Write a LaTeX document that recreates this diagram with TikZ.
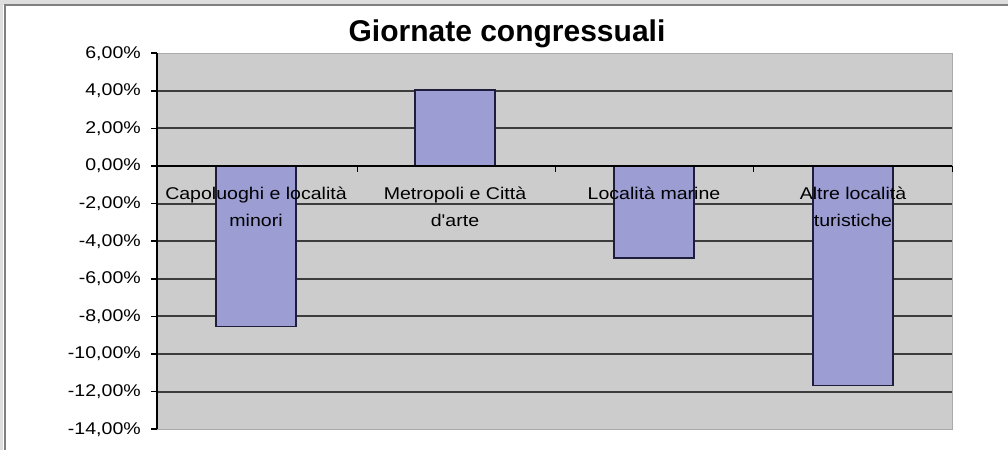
\documentclass[tikz,border=0pt]{standalone}
\usepackage{fontspec}
\setmainfont{Liberation Sans}
\newfontfamily\chartfont[FakeStretch=1.15]{Liberation Sans}
\usetikzlibrary{positioning}
\definecolor{framefill}{RGB}{222,222,222}
\definecolor{frameline}{RGB}{128,128,128}
\definecolor{plotgray}{RGB}{204,204,204}
\definecolor{plotedge}{RGB}{170,170,170}
\definecolor{gridgray}{RGB}{60,60,60}
\definecolor{barfill}{RGB}{155,157,211}
\definecolor{barline}{RGB}{30,30,60}
\tikzset{
  ylab/.style    ={anchor=east, inner sep=0pt, font=\chartfont\fontsize{17}{20}\selectfont},
  catlab/.style  ={anchor=north, align=center, inner sep=0pt, font=\chartfont\fontsize{17}{27}\selectfont},
  bar/.style     ={draw=barline, fill=barfill, line width=1.4pt, minimum width=80pt, inner sep=0pt},
  gridrule/.style={draw=gridgray, line width=2pt},
  axisline/.style={draw=black, line width=1.6pt},
}

\begin{document}
\begin{tikzpicture}[x=1pt, y=1pt]
  \useasboundingbox (0,0) rectangle (1008,450);
  % frame of the panel
  \fill[white] (0,0) rectangle (1008,450);
  \fill[framefill] (0,445) rectangle (1008,450);
  \fill[framefill] (0,0) rectangle (3,450);
  \draw[frameline, line width=2pt] (4.5,0) -- (4.5,444.5) -- (1008,444.5);

  % title
  \node[anchor=base, inner sep=0pt, font=\bfseries\fontsize{30}{36}\selectfont] (title) at (507,408) {Giornate congressuali};

  \begin{scope}[shift={(0,284)}, y=18.8pt]
    % plot area
    \coordinate (ptl) at (157,6);
    \coordinate (pbr) at (952,-14);
    \draw[plotedge, fill=plotgray, line width=1pt] (ptl) rectangle (pbr);
    \foreach \v in {4,2,-2,-4,-6,-8,-10,-12}
      \draw[gridrule] (157,\v) -- (952,\v);

    % y axis with ticks and labels
    \draw[axisline] (ptl) -- (157,-14);
    \foreach \v/\t in {6/{6,00\%}, 4/{4,00\%}, 2/{2,00\%}, 0/{0,00\%},
                       -2/{-2,00\%}, -4/{-4,00\%}, -6/{-6,00\%}, -8/{-8,00\%},
                       -10/{-10,00\%}, -12/{-12,00\%}, -14/{-14,00\%}} {
      \draw[axisline] (151,\v) -- (157,\v);
      \node[ylab] at (141,\v) {\t};
    }

    % bars
    \node[bar, anchor=north, minimum height=8.5*18.8pt]  (capo)  at (256,0) {};
    \node[bar, anchor=south, minimum height=4.0*18.8pt]  (metro) at (455,0) {};
    \node[bar, anchor=north, minimum height=4.85*18.8pt] (mare)  at (654,0) {};
    \node[bar, anchor=north, minimum height=11.65*18.8pt](altre) at (853,0) {};

    % zero line and category ticks
    \draw[axisline] (157,0) -- (952,0);
    \foreach \x in {357,555,753,952}
      \draw[axisline, line width=1pt] (\x,0) -- (\x,-0.3);

    % category labels
    \node[catlab] (lcapo)  at (256,-1.12) {Capoluoghi e località\\minori};
    \node[catlab] (lmetro) at (455,-1.12) {Metropoli e Città\\d'arte};
    \node[catlab] (lmare)  at (654,-1.12) {Località marine};
    \node[catlab] (laltre) at (853,-1.12) {Altre località\\turistiche};
  \end{scope}
\end{tikzpicture}
\end{document}
